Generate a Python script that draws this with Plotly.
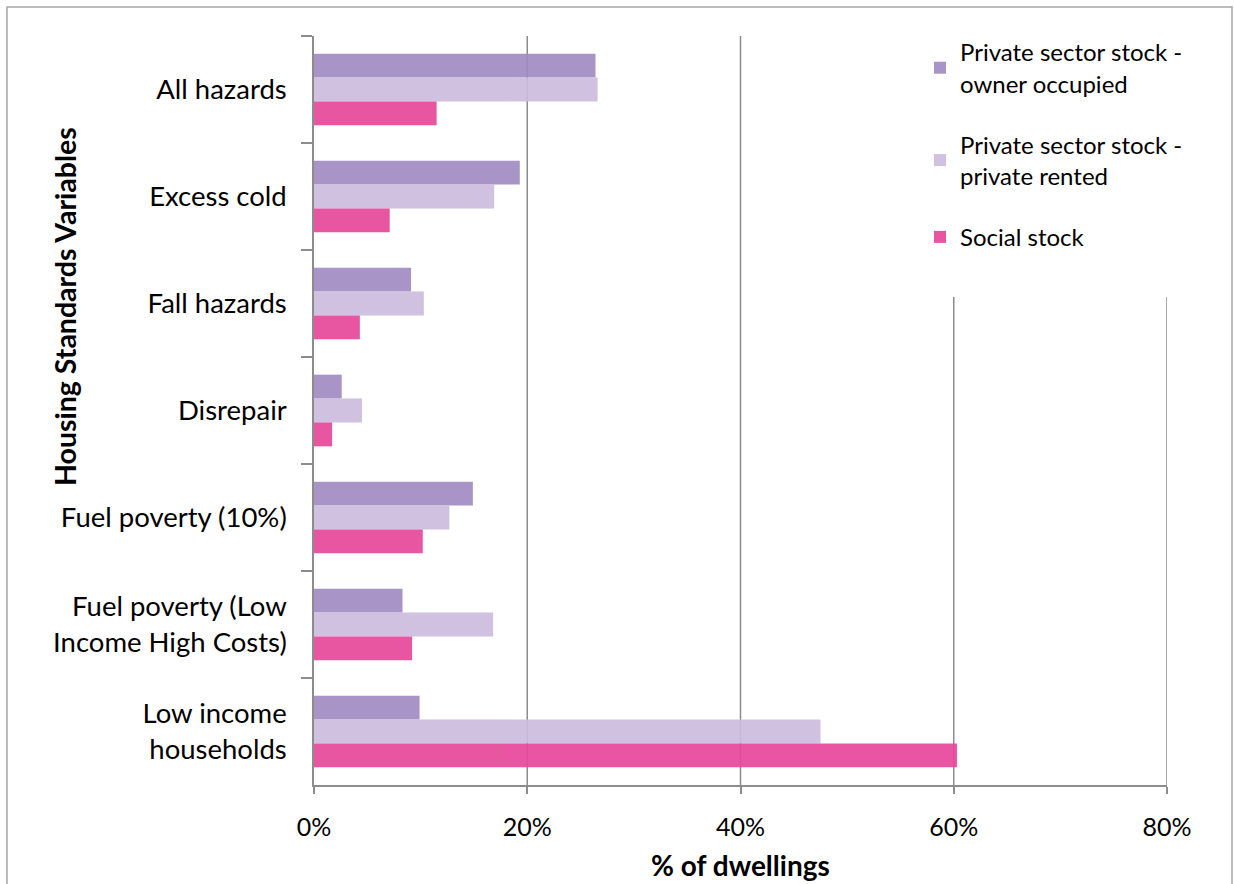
import plotly.graph_objects as go

categories = ["All hazards", "Excess cold", "Fall hazards", "Disrepair",
              "Fuel poverty (10%)", "Fuel poverty (Low<br>Income High Costs)",
              "Low income<br>households"]
owner_occupied = [26.4, 19.3, 9.1, 2.6, 14.9, 8.3, 9.9]
private_rented = [26.6, 16.9, 10.3, 4.5, 12.7, 16.8, 47.5]
social_stock = [11.5, 7.1, 4.3, 1.7, 10.2, 9.2, 60.3]
series_names = ["Private sector stock -<br>owner occupied",
                "Private sector stock -<br>private rented",
                "Social stock"]
x_ticks = [0, 20, 40, 60, 80]
x_tick_labels = ["0%", "20%", "40%", "60%", "80%"]

colors = ["#A18CC3", "#CCBCDD", "#E7479A"]
FONT = "Lato"
GRID = "#8C8C8C"
W, H = 1234, 884
L, R, T, B = 314, 1167, 36, 785

fig = go.Figure()
for name, vals, col in zip(series_names, [owner_occupied, private_rented, social_stock], colors):
    fig.add_trace(go.Bar(
        y=categories, x=vals, name=name, orientation="h",
        marker=dict(color=col, line=dict(width=0)), opacity=0.92,
        legendgroup=name,
    ))

pw, ph = R - L, B - T
def px(x):
    return (x - L) / pw
def py(y):
    return (B - y) / ph

shapes = [dict(type="rect", xref="paper", yref="paper",
               x0=px(7), x1=px(1232), y0=py(900), y1=py(7),
               line=dict(color="#A6A6A6", width=1.5), fillcolor="rgba(0,0,0,0)",
               layer="below")]
# vertical gridlines at the tick values (below bars)
for t in x_ticks[1:]:
    shapes.append(dict(type="line", xref="x", yref="paper", x0=t, x1=t, y0=0, y1=1,
                       line=dict(color=GRID, width=1.5), layer="below"))
# white area behind the legend hiding the gridlines
shapes.append(dict(type="rect", xref="paper", yref="paper",
                   x0=px(925), x1=px(1200), y0=py(297), y1=py(30),
                   line=dict(width=0), fillcolor="white", layer="below"))

fig.update_layout(
    width=W, height=H,
    margin=dict(l=L, r=W - R, t=T, b=H - B, pad=0, autoexpand=False),
    paper_bgcolor="white", plot_bgcolor="white",
    barmode="group", bargap=0.33, bargroupgap=0,
    font=dict(family=FONT, size=24, color="#000000"),
    xaxis=dict(range=[0, 80], tickvals=x_ticks, ticktext=x_tick_labels,
               showgrid=False,
               showline=True, linecolor=GRID, linewidth=1.5,
               ticks="outside", ticklen=7, tickcolor=GRID, tickwidth=1.5,
               ticklabelstandoff=12, automargin=False,
               zeroline=False, tickfont=dict(size=25), fixedrange=True),
    yaxis=dict(autorange="reversed", showgrid=False,
               showline=True, linecolor=GRID, linewidth=1.5,
               ticks="outside", ticklen=11, tickcolor=GRID, tickwidth=1.5,
               tickson="boundaries", ticklabelstandoff=20, automargin=False,
               tickfont=dict(size=27.5), fixedrange=True),
    legend=dict(x=px(920), y=py(30), xanchor="left", yanchor="top",
                bgcolor="white", borderwidth=0, tracegroupgap=27,
                font=dict(size=24), traceorder="grouped"),
    showlegend=True,
    shapes=shapes,
    annotations=[dict(text="<b>Housing Standards Variables</b>", xref="paper", yref="paper",
                      x=px(65), y=py(307), textangle=-90, showarrow=False,
                      font=dict(size=28.5), xanchor="center", yanchor="middle"),
                 dict(text="<b>% of dwellings</b>", xref="paper", yref="paper",
                      x=px(740), y=py(865), showarrow=False,
                      font=dict(size=28), xanchor="center", yanchor="middle")],
)

fig.write_html("out.html", config={"displayModeBar": False},
               post_script="document.body.style.margin='0';document.body.style.overflow='hidden';")
